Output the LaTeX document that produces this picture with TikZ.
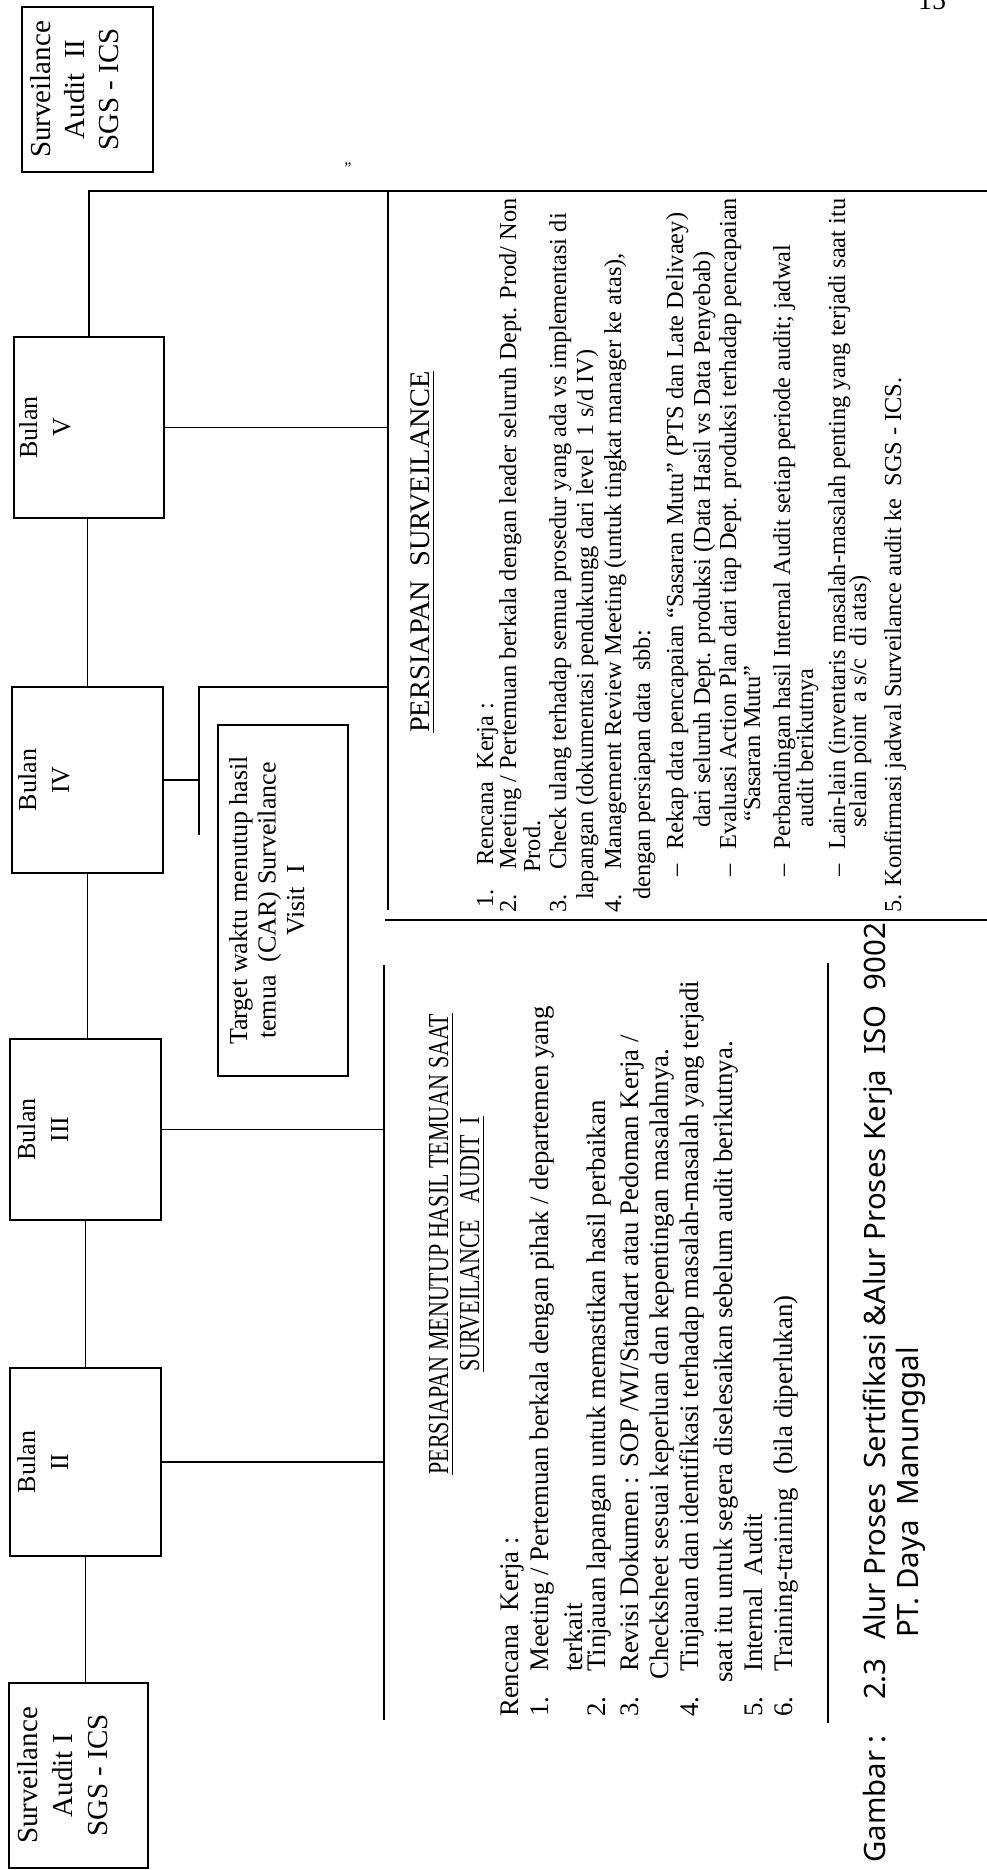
\documentclass[tikz,border=0pt]{standalone}
\usepackage{fontspec}
\setmainfont{Liberation Serif}
\newfontfamily\capfont{Noto Sans}
\newfontfamily\condfont[FakeStretch=0.76]{Liberation Serif}
\newcommand\myfs[2]{\fontsize{#1}{#2}\selectfont}
\begin{document}
\begin{tikzpicture}[x=1pt,y=-1pt,
  box/.style={draw, line width=1.6pt, inner sep=0pt, outer sep=0pt},
  conn/.style={line width=1.5pt},
  rt/.style={rotate=90, anchor=base west, inner sep=0pt, font=\myfs{24.4}{28}},
  lt/.style={rotate=90, anchor=base west, inner sep=0pt, font=\myfs{26.8}{31}},
  ct/.style={rotate=90, anchor=base west, inner sep=0pt, font=\capfont\myfs{29.4}{34}},
  lbl/.style={rotate=90, anchor=north, inner sep=0pt, align=center},
  ul/.style={line width=1.4pt}]
\fill[white] (0,0) rectangle (987,1870);
\useasboundingbox (0,0) rectangle (987,1870);
\clip (0,0) rectangle (987,1870);

% ---------- boxes ----------
\node[box, minimum width=131pt, minimum height=165pt] (SA2) at (87.5,89.5) {};
\node[box, minimum width=150pt, minimum height=181pt] (B5) at (89,427.5) {};
\node[box, minimum width=151pt, minimum height=186pt] (B4) at (87.5,780) {};
\node[box, minimum width=151pt, minimum height=181pt] (B3) at (85.5,1129.5) {};
\node[box, minimum width=151pt, minimum height=188pt] (B2) at (85.5,1462) {};
\node[box, minimum width=139pt, minimum height=185pt] (SA1) at (78.5,1775.5) {};
\node[box, minimum width=130pt, minimum height=351pt] (TG) at (283,900.5) {};

% ---------- box labels ----------
\node[lbl, font=\myfs{29}{34}] (SA2t) at ([xshift=8pt]SA2.west) {Surveilance\\Audit\ \ II\\SGS - ICS};
\node[lbl, font=\myfs{26}{33}] (B5t) at ([xshift=5pt]B5.west) {Bulan\\V};
\node[lbl, font=\myfs{26}{33}] (B4t) at ([xshift=6pt]B4.west) {Bulan\\IV};
\node[lbl, font=\myfs{26}{33}] (B3t) at ([xshift=7pt]B3.west) {Bulan\\III};
\node[lbl, font=\myfs{26}{33}] (B2t) at ([xshift=7pt]B2.west) {Bulan\\II};
\node[lbl, font=\myfs{29}{35}] (SA1t) at ([xshift=8pt]SA1.west) {Surveilance\\Audit I\\SGS - ICS};
\node[lbl, font=\myfs{26}{28.5}] (TGt) at ([xshift=11pt]TG.west) {Target waktu menutup hasil\\temua\ \ (CAR) Surveilance\\Visit\ \ I};

% ---------- frame coordinates ----------
\coordinate (TR) at (987,191);
\coordinate (RT) at (388,191);
\coordinate (RB) at (388,910);
\coordinate (BL) at (385,920);
\coordinate (BR) at (987,920);
\coordinate (LT) at (384,965);
\coordinate (LB) at (384,1720);
\coordinate (KT) at (828,963);
\coordinate (KB) at (828,1723);
\coordinate (J4) at (199,687);
\coordinate (J4b) at (199,835);

% ---------- connectors ----------
\draw[conn] (B5.north) |- (TR);
\draw[conn] (RT) -- (RB);
\draw[conn] (B5.east) -- (B5.east -| RT);
\draw[conn] (BL) -- (BR);
\draw[conn] (B4.east) -- (B4.east -| J4);
\draw[conn] (J4b) -- (J4) -- (J4 -| RT);
\draw[conn] (LT) -- (LB);
\draw[conn] (B3.east) -- (B3.east -| LT);
\draw[conn] (B2.east) -- (B2.east -| LT);
\draw[conn] (KT) -- (KB);
\draw[conn] (B4.north) -- (B4.north |- B5.south);
\draw[conn] (B4.south) -- (B4.south |- B3.north);
\draw[conn] (B3.south) -- (B3.south |- B2.north);
\draw[conn] (B2.south) -- (B2.south |- SA1.north);

% ---------- right block ----------
\node[rotate=90, anchor=base west, inner sep=0pt, font=\myfs{28.4}{32}] (rtt) at (429,733) {PERSIAPAN\ \ SURVEILANCE};
\draw[ul] ([xshift=4pt]rtt.south west) -- ([xshift=4pt]rtt.south east);
\node[rt] (r1n) at (493,908) {1.};
\node[rt] (r1) at (493,866) {Rencana\ \ Kerja :};
\node[rt] (r2n) at (516,913) {2.};
\node[rt] (r2) at (516,870) {Meeting / Pertemuan berkala dengan leader seluruh Dept. Prod/ Non};
\node[rt] (r3) at (540,873) {Prod.};
\node[rt] (r4n) at (566,913) {3.};
\node[rt] (r4) at (566,870) {Check ulang terhadap semua prosedur yang ada vs implementasi di};
\node[rt] (r5) at (593,900) {lapangan (dokumentasi pendukungg dari level\ \ 1 s/d IV)};
\node[rt] (r6n) at (621,913) {4.};
\node[rt] (r6) at (621,870) {Management Review Meeting (untuk tingkat manager ke atas),};
\node[rt] (r7) at (650,900) {dengan persiapan data\ \ sbb:};
\node[rt] (r8d) at (683,877) {–};
\node[rt] (r8) at (683,850) {Rekap data pencapaian ``Sasaran Mutu'' (PTS dan Late Delivaey)};
\node[rt] (r9) at (710,828) {dari seluruh Dept. produksi (Data Hasil vs Data Penyebab)};
\node[rt] (r10d) at (736,877) {–};
\node[rt] (r10) at (736,850) {Evaluasi Action Plan dari tiap Dept. produksi terhadap pencapaian};
\node[rt] (r11) at (760,822) {``Sasaran Mutu''};
\node[rt] (r12d) at (790,877) {–};
\node[rt] (r12) at (790,850) {Perbandingan hasil Internal Audit setiap periode audit; jadwal};
\node[rt] (r13) at (813,828) {audit berikutnya};
\node[rt] (r14d) at (845,877) {–};
\node[rt] (r14) at (845,850) {Lain-lain (inventaris masalah-masalah penting yang terjadi saat itu};
\node[rt] (r15) at (866,828) {selain point\ \ a s/c\ \ di atas)};
\node[rt] (r16) at (901,913) {5. Konfirmasi jadwal Surveilance audit ke\ \ SGS - ICS.};

% ---------- left block ----------
\node[rotate=90, anchor=base, inner sep=0pt, font=\condfont\myfs{29}{33}] (ltt1) at (448,1244) {PERSIAPAN MENUTUP HASIL TEMUAN SAAT};
\node[rotate=90, anchor=base, inner sep=0pt, font=\condfont\myfs{29}{33}] (ltt2) at (479,1244) {SURVEILANCE\ \ \ AUDIT\ \ I};
\draw[ul] ([xshift=4pt]ltt1.south west) -- ([xshift=4pt]ltt1.south east);
\draw[ul] ([xshift=4pt]ltt2.south west) -- ([xshift=4pt]ltt2.south east);
\node[lt] (l0) at (518,1717) {Rencana\ \ Kerja :};
\node[lt] (l1n) at (548,1717) {1.};
\node[lt] (l1) at (548,1672) {Meeting / Pertemuan berkala dengan pihak / departemen yang};
\node[lt] (l1b) at (582,1672) {terkait};
\node[lt] (l2n) at (605,1717) {2.};
\node[lt] (l2) at (605,1672) {Tinjauan lapangan untuk memastikan hasil perbaikan};
\node[lt] (l3n) at (638,1717) {3.};
\node[lt] (l3) at (638,1672) {Revisi Dokumen : SOP /WI/Standart atau Pedoman Kerja /};
\node[lt] (l3b) at (668,1680) {Checksheet sesuai keperluan dan kepentingan masalahnya.};
\node[lt] (l4n) at (698,1717) {4.};
\node[lt] (l4) at (698,1672) {Tinjauan dan identifikasi terhadap masalah-masalah yang terjadi};
\node[lt] (l4b) at (732,1683) {saat itu untuk segera diselesaikan sebelum audit berikutnya.};
\node[lt] (l5n) at (762,1717) {5.};
\node[lt] (l5) at (762,1672) {Internal\ \ Audit};
\node[lt] (l6n) at (792,1717) {6.};
\node[lt] (l6) at (792,1672) {Training-training\ \ (bila diperlukan)};

% ---------- caption ----------
\node[ct] (c1) at (885,1863) {Gambar :};
\node[ct] (c2) at (885,1700) {2.3};
\node[ct] (c3) at (885,1640) {Alur Proses\ \ Sertifikasi \&Alur Proses Kerja\ \ ISO\ \ 9002};
\node[ct] (c4) at (918,1638) {PT. Daya\ \ Manunggal};

% ---------- marks ----------
\node[anchor=base, inner sep=0pt, font=\myfs{28}{30}] (pg) at (932,10) {15};
\node[inner sep=0pt, font=\myfs{16}{18}] (q1) at (348,168) {''};
\end{tikzpicture}
\end{document}
